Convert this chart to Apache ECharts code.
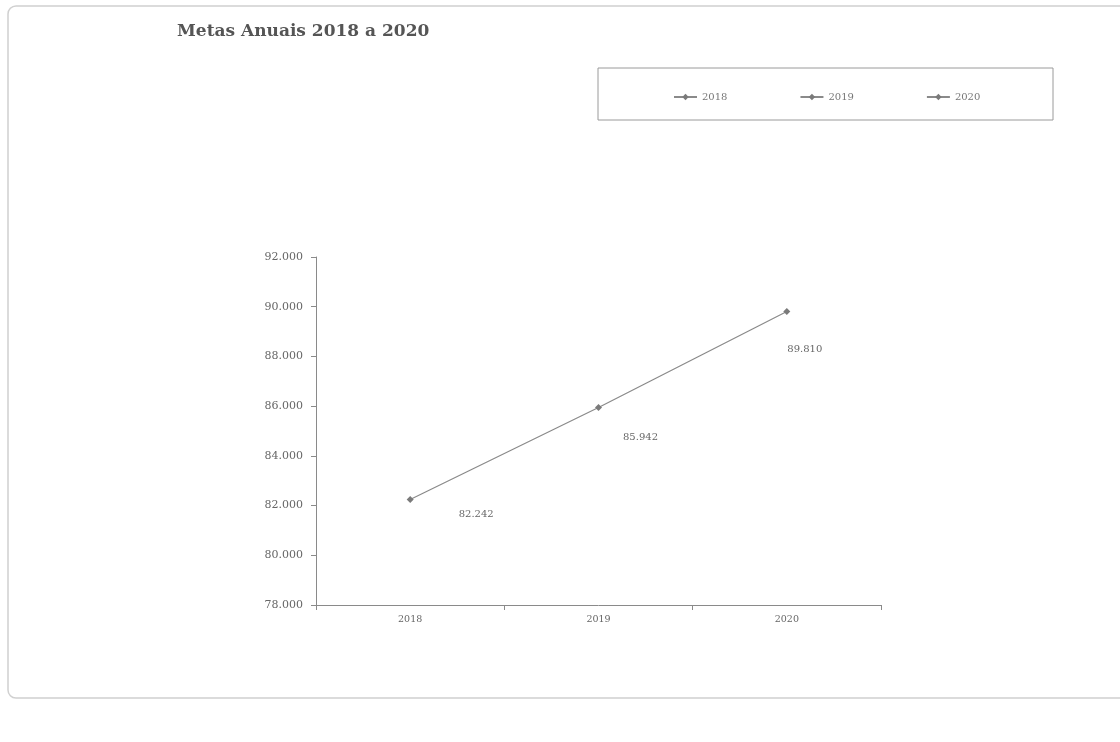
<!DOCTYPE html>
<html><head><meta charset="utf-8">
<script src="https://cdn.jsdelivr.net/npm/echarts@6/dist/echarts.min.js"></script>
<style>html,body{margin:0;padding:0;background:#fff}#c{width:1120px;height:742px}</style>
</head><body><div id="c"></div>
<script>
const categories = ['2018', '2019', '2020'];
const metas = [82.242, 85.942, 89.810];
const yTicks = [78, 80, 82, 84, 86, 88, 90, 92];
const labelOffsets = [[66, 1], [42, 16], [18, 24]];

const chart = echarts.init(document.getElementById('c'));
const font = "'DejaVu Serif', 'Liberation Serif', serif";
const gray = '#8a8a8a';

const pointSeries = categories.map((c, i) => ({
  name: c,
  type: 'line',
  data: categories.map((_, j) => j === i ? metas[j] : '-'),
  symbol: 'diamond',
  symbolSize: 7,
  itemStyle: { color: '#7a7a7a' },
  lineStyle: { color: gray, width: 1 },
  label: {
    show: true,
    formatter: p => p.value.toFixed(3),
    position: 'bottom',
    offset: labelOffsets[i],
    fontFamily: font, fontSize: 10, color: '#666'
  },
  z: 3
}));

chart.setOption({
  animation: false,
  backgroundColor: '#fff',
  title: {
    text: 'Metas Anuais 2018 a 2020',
    left: 172, top: 18,
    textStyle: { fontFamily: font, fontWeight: 'bold', fontSize: 17, color: '#555' }
  },
  graphic: [
    { type: 'rect', shape: { x: 8, y: 6, width: 1130, height: 692, r: 8 },
      style: { fill: 'none', stroke: '#d0d0d0', lineWidth: 1.5 }, z: -1 },
    { type: 'rect', shape: { x: 598, y: 68, width: 455, height: 52 },
      style: { fill: '#fff', stroke: '#9a9a9a', lineWidth: 1 }, z: 0 }
  ],
  legend: {
    data: categories,
    left: 668, top: 87,
    itemGap: 72,
    itemWidth: 23, itemHeight: 8,
    textStyle: { fontFamily: font, fontSize: 10, color: '#777' },
    z: 5
  },
  grid: { left: 316, right: 239, top: 257, bottom: 137 },
  xAxis: {
    type: 'category',
    data: categories,
    boundaryGap: true,
    axisLine: { lineStyle: { color: '#8a8a8a' } },
    axisTick: { show: true, alignWithLabel: false, length: 5, lineStyle: { color: '#8a8a8a' } },
    axisLabel: { fontFamily: font, fontSize: 9.5, color: '#666', margin: 10 }
  },
  yAxis: {
    type: 'value',
    min: yTicks[0], max: yTicks[yTicks.length - 1], interval: 2,
    splitLine: { show: false },
    axisLine: { show: true, lineStyle: { color: '#8a8a8a' } },
    axisTick: { show: true, length: 5, lineStyle: { color: '#8a8a8a' } },
    axisLabel: { fontFamily: font, fontSize: 11, color: '#666', margin: 13,
      formatter: v => v.toFixed(3) }
  },
  series: [
    {
      name: 'Metas',
      type: 'line',
      data: metas,
      symbol: 'none',
      lineStyle: { color: gray, width: 1.2 },
      z: 2
    }
  ].concat(pointSeries)
});
</script></body></html>
